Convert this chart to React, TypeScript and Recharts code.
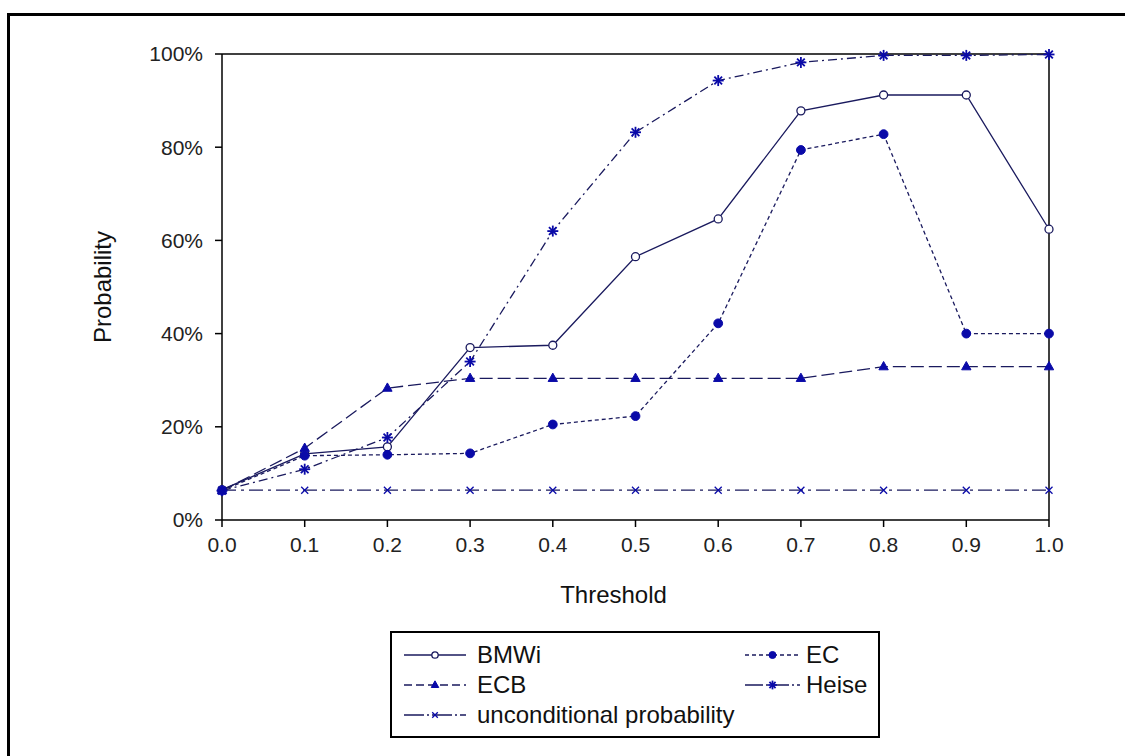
import React from "react";
import { LineChart, Line, XAxis, YAxis, ReferenceLine, Label } from "recharts";

const thresholds = [0, 0.1, 0.2, 0.3, 0.4, 0.5, 0.6, 0.7, 0.8, 0.9, 1.0];
const bmwi = [6.5, 14.2, 15.7, 37.0, 37.5, 56.5, 64.6, 87.8, 91.2, 91.2, 62.4];
const ec = [6.3, 13.8, 14.0, 14.3, 20.5, 22.3, 42.2, 79.4, 82.8, 40.0, 40.0];
const ecb = [6.3, 15.4, 28.3, 30.4, 30.4, 30.4, 30.4, 30.4, 32.9, 32.9, 32.9];
const heise = [6.3, 10.9, 17.7, 34.0, 62.0, 83.2, 94.3, 98.2, 99.7, 99.7, 99.9];
const unconditional = [6.4, 6.4, 6.4, 6.4, 6.4, 6.4, 6.4, 6.4, 6.4, 6.4, 6.4];

const xTicks = [0, 0.1, 0.2, 0.3, 0.4, 0.5, 0.6, 0.7, 0.8, 0.9, 1.0];
const yTicks = [0, 20, 40, 60, 80, 100];

const data = thresholds.map((t, i) => ({
  t,
  bmwi: bmwi[i],
  ec: ec[i],
  ecb: ecb[i],
  heise: heise[i],
  uncond: unconditional[i],
}));

const LINE = "#1a1a5e";
const MARK = "#0a0aa8";
const FONT = "'Liberation Sans', Arial, sans-serif";

type Shape = "open" | "filled" | "triangle" | "star" | "cross";

function Marker({ cx, cy, shape, size = 1 }: { cx: number; cy: number; shape: Shape; size?: number }) {
  const s = size;
  if (shape === "open")
    return <circle cx={cx} cy={cy} r={4 * s} fill="#fff" stroke={LINE} strokeWidth={1.3} />;
  if (shape === "filled") return <circle cx={cx} cy={cy} r={4.4 * s} fill={MARK} stroke={MARK} />;
  if (shape === "triangle") {
    const r = 5.2 * s;
    return (
      <polygon
        points={`${cx},${cy - r} ${cx - r * 0.9},${cy + r * 0.6} ${cx + r * 0.9},${cy + r * 0.6}`}
        fill={MARK}
        stroke={MARK}
      />
    );
  }
  if (shape === "star") {
    const r = 5.5 * s;
    return (
      <g stroke={MARK} strokeWidth={1.8}>
        <line x1={cx - r} y1={cy} x2={cx + r} y2={cy} />
        <line x1={cx} y1={cy - r} x2={cx} y2={cy + r} />
        <line x1={cx - r * 0.7} y1={cy - r * 0.7} x2={cx + r * 0.7} y2={cy + r * 0.7} />
        <line x1={cx - r * 0.7} y1={cy + r * 0.7} x2={cx + r * 0.7} y2={cy - r * 0.7} />
      </g>
    );
  }
  const r = 3.5 * s;
  return (
    <g stroke={MARK} strokeWidth={1.3}>
      <line x1={cx - r} y1={cy - r} x2={cx + r} y2={cy + r} />
      <line x1={cx - r} y1={cy + r} x2={cx + r} y2={cy - r} />
    </g>
  );
}

const series = [
  { key: "bmwi", name: "BMWi", dash: undefined as string | undefined, legendDash: undefined as string | undefined, shape: "open" as Shape },
  { key: "ec", name: "EC", dash: "4 3", legendDash: "4 3", shape: "filled" as Shape },
  { key: "ecb", name: "ECB", dash: "13 5", legendDash: "8 4", shape: "triangle" as Shape },
  { key: "heise", name: "Heise", dash: "9 4 2 4", legendDash: "18 3 2 3", shape: "star" as Shape },
  { key: "uncond", name: "unconditional probability", dash: "14 5 3 5", legendDash: "20 3 2 3", shape: "cross" as Shape },
];

// legend rows: left column and right column, offsets inside the box
const legendPos: Record<string, { x: number; y: number; gap: number }> = {
  bmwi: { x: 12, y: 0, gap: 11 },
  ecb: { x: 12, y: 30, gap: 11 },
  uncond: { x: 12, y: 60, gap: 11 },
  ec: { x: 353, y: 0, gap: 6 },
  heise: { x: 353, y: 30, gap: 6 },
};

function LegendBox() {
  return (
    <div
      style={{
        position: "absolute",
        left: 390,
        top: 631,
        width: 486,
        height: 103,
        border: "2px solid #000",
        background: "#fff",
        fontFamily: FONT,
        fontSize: 24,
        color: "#111",
      }}
    >
      {series.map((s) => {
        const p = legendPos[s.key];
        const w = p.x > 100 ? 55 : 62;
        return (
          <div
            key={s.key}
            style={{ position: "absolute", left: p.x, top: 8 + p.y, height: 28, display: "flex", alignItems: "center", whiteSpace: "nowrap" }}
          >
            <svg width={w} height={20} style={{ marginRight: p.gap }}>
              <line x1={0} y1={10} x2={w} y2={10} stroke={LINE} strokeWidth={1.3} strokeDasharray={s.legendDash} />
              <Marker cx={w / 2} cy={10} shape={s.shape} size={0.8} />
            </svg>
            <span>{s.name}</span>
          </div>
        );
      })}
    </div>
  );
}

export default function App() {
  return (
    <div style={{ position: "absolute", left: 0, top: 0, width: 1125, height: 756, overflow: "hidden", background: "#fff" }}>
      <div
        style={{
          position: "absolute",
          left: 7,
          top: 13,
          width: 1200,
          height: 800,
          borderLeft: "3px solid #000",
          borderTop: "3px solid #000",
        }}
      />
      <div style={{ position: "absolute", left: 0, top: 0 }}>
        <LineChart width={1125} height={756} data={data} margin={{ top: 54, right: 76, bottom: 0, left: 0 }}>
          <XAxis
            dataKey="t"
            type="number"
            domain={[0, 1]}
            ticks={xTicks}
            tickFormatter={(v: number) => v.toFixed(1)}
            tick={{ fontSize: 21, fill: "#222", fontFamily: FONT }}
            stroke="#000"
            strokeWidth={1.5}
            tickSize={7}
            tickMargin={10}
            height={236}
          >
            <Label value="Threshold" position="insideTop" offset={66} dx={-22} style={{ fontSize: 24, fill: "#111", fontFamily: FONT }} />
          </XAxis>
          <YAxis
            type="number"
            domain={[0, 100]}
            ticks={yTicks}
            tickFormatter={(v: number) => `${v}%`}
            tick={{ fontSize: 21, fill: "#222", fontFamily: FONT }}
            stroke="#000"
            strokeWidth={1.5}
            tickSize={7}
            tickMargin={12}
            width={222}
          >
            <Label
              value="Probability"
              angle={-90}
              position="insideRight"
              offset={120}
              style={{ fontSize: 24, fill: "#111", fontFamily: FONT, textAnchor: "middle" }}
            />
          </YAxis>
          <ReferenceLine y={100} stroke="#000" strokeWidth={1.5} />
          <ReferenceLine x={1} stroke="#000" strokeWidth={1.5} />
          {series.map((s) => (
            <Line
              key={s.key}
              dataKey={s.key}
              name={s.name}
              stroke={LINE}
              strokeWidth={1.3}
              strokeDasharray={s.dash}
              isAnimationActive={false}
              dot={(p: any) => <Marker key={`${s.key}-${p.index}`} cx={p.cx} cy={p.cy} shape={s.shape} />}
              activeDot={false}
            />
          ))}
        </LineChart>
      </div>
      <LegendBox />
    </div>
  );
}
